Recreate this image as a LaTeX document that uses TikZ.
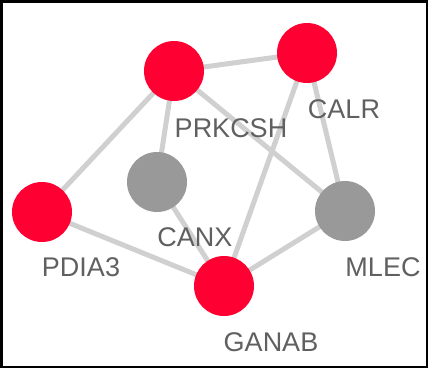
\documentclass[tikz,border=0pt]{standalone}
\usepackage{fontspec}
\setmainfont{Liberation Sans}
\usetikzlibrary{backgrounds}
\definecolor{hitred}{RGB}{255,0,51}
\definecolor{neighgray}{RGB}{153,153,153}
\definecolor{edgegray}{RGB}{208,208,208}
\definecolor{labelgray}{RGB}{96,96,96}
\begin{document}
\begin{tikzpicture}[x=1pt,y=1pt,
  prot/.style={circle,inner sep=0pt,minimum size=60pt},
  hit/.style={prot,fill=hitred},
  neigh/.style={prot,fill=neighgray},
  lbl/.style={text=labelgray,font=\fontsize{27}{27}\selectfont,inner sep=0pt},
  link/.style={draw=edgegray,line width=5pt}]
\useasboundingbox (0,0) rectangle (428,-368);
% proteins
\node[hit]   (prkcsh) at (174,-71)  {};
\node[hit]   (calr)   at (307,-53)  {};
\node[neigh] (canx)   at (157,-182) {};
\node[hit]   (pdia3)  at (42,-212)  {};
\node[neigh] (mlec)   at (345,-211) {};
\node[hit]   (ganab)  at (224,-286) {};
% labels
\node[lbl] (lprkcsh) at (231,-128) {PRKCSH};
\node[lbl] (lcalr)   at (344,-109) {CALR};
\node[lbl] (lcanx)   at (195,-237) {CANX};
\node[lbl] (lpdia3)  at (81,-267)  {PDIA3};
\node[lbl] (lmlec)   at (383,-267) {MLEC};
\node[lbl] (lganab)  at (271,-342) {GANAB};
% interactions
\begin{scope}[on background layer]
\draw[link] (prkcsh.center) -- (calr.center);
\draw[link] (prkcsh.center) -- (pdia3.center);
\draw[link] (prkcsh.center) -- (canx.center);
\draw[link] (prkcsh.center) -- (mlec.center);
\draw[link] (calr.center) -- (ganab.center);
\draw[link] (calr.center) -- (mlec.center);
\draw[link] (pdia3.center) -- (ganab.center);
\draw[link] (canx.center) -- (ganab.center);
\draw[link] (mlec.center) -- (ganab.center);
\end{scope}
% frame
\draw[line width=2.5pt] (1.25,-1.25) rectangle (426.75,-366.75);
\end{tikzpicture}
\end{document}
